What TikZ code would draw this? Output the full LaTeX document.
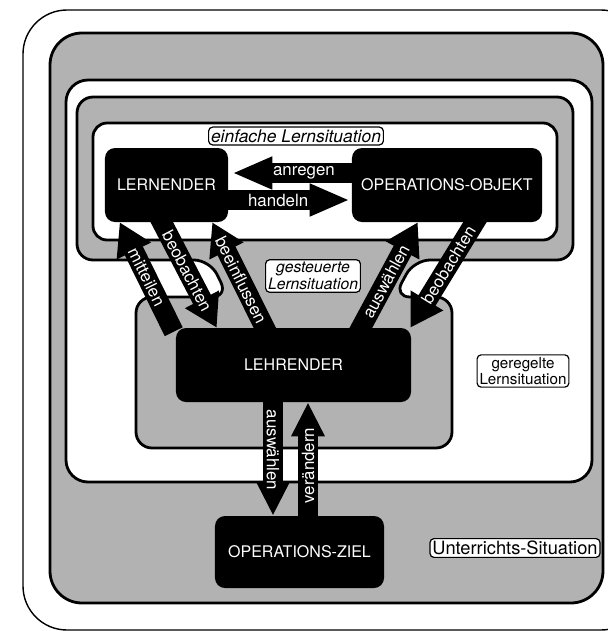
\documentclass[tikz,border=0pt]{standalone}
\usepackage{fontspec}
\setmainfont{TeX Gyre Heros}
\usetikzlibrary{calc}
\usetikzlibrary{arrows.meta}
\colorlet{dotgrey}{black!30}
\tikzset{
    % Heavy outline shared by all the nested situations
    situation/.style={draw, line width=0.7mm},
%
    % Black boxes for the participants, width given as argument
    actor box/.style={
        fill=black, text=white, rounded corners=2.5mm, inner sep=0pt,
        minimum width=#1, minimum height=18.5mm,
        font=\fontsize{11.4}{13}\selectfont},
%
    % Small framed captions naming each situation
    caption box/.style={
        draw, fill=white, line width=0.3mm, rounded corners=1mm,
        inner sep=0.6mm, align=center},
%
    % Fat black arrows between the participants
    fat arrow/.style={line width=5mm, -{Triangle[length=8mm, width=9mm]}},
    flat arrow/.style={line width=5mm, -{Triangle[length=10mm, width=7.5mm]}},
    down arrow/.style={line width=5mm, -{Triangle[length=8.5mm, width=7.8mm]}},
%
    % White lettering written into an arrow
    arrow text/.style={text=white, inner sep=0pt,
        font=\fontsize{12}{13}\selectfont}}

\begin{document}
\begin{tikzpicture}[x=0.25mm, y=-0.25mm]

\clip (0,0) rectangle (608,631);

% Nested situations, outermost first
\draw [line width=0.35mm, rounded corners=11mm] (23,10) rectangle (645,630);
\draw [situation, fill=dotgrey, rounded corners=8mm] (50,33) rectangle (603,603);
\draw [situation, fill=white, rounded corners=5.5mm] (66,80) rectangle (592,482);
\draw [situation, fill=dotgrey, rounded corners=4mm]
    (77,97) -- (573,97) -- (573,260) -- (414,260) -- (394,297)
    -- (452,297) -- (452,448) -- (136,448) -- (136,297) -- (228,297)
    -- (210,260) -- (77,260) -- cycle;
\draw [situation, fill=white, rounded corners=3.5mm] (93,123) rectangle (557,240);

\node [caption box, font={\itshape\fontsize{12.4}{13}\selectfont}]
    (einfache) at (296,136) {einfache Lernsituation};
\node [caption box, font={\itshape\fontsize{11.2}{12}\selectfont}]
    (gesteuert) at (313,276) {gesteuerte\\Lernsituation};
\node [caption box, font=\fontsize{10.8}{11.5}\selectfont]
    (geregelt) at (523,371) {geregelte\\Lernsituation};
\node [caption box, font=\fontsize{13}{14}\selectfont]
    (unterricht) at (515,548) {Unterrichts-Situation};

% Participants
\node [actor box=30.75mm] (lernender) at (166.5,185) {LERNENDER};
\node [actor box=47.5mm] (objekt) at (447,185) {OPERATIONS-OBJEKT};
\node [actor box=58.75mm] (lehrender) at (293.5,365) {LEHRENDER};
\node [actor box=42.25mm, minimum height=18mm] (ziel) at (299.5,552) {OPERATIONS-ZIEL};

% Simple learning situation
\draw [flat arrow] ($(objekt.west)+(2,-12)$) coordinate (anr)
    -- node [arrow text, pos=0.41] {anregen} ($(anr -| lernender.east)+(4,0)$);
\draw [flat arrow] ($(lernender.east)+(-2,15)$) coordinate (hdl)
    -- node [arrow text, pos=0.42] {handeln} ($(hdl -| objekt.west)+(-2,0)$);

% Teacher steering the learner and the object
\draw [fat arrow] ($(lehrender.north west)+(-2,4)$)
    -- node [arrow text, sloped, pos=0.5] {mitteilen} ($(lernender.south west)+(15,0)$);
\draw [fat arrow] ($(lernender.south west)+(53,-8)$)
    -- node [arrow text, sloped, pos=0.5] {beobachten} ($(lehrender.north west)+(41,0)$);
\draw [fat arrow] ($(lehrender.north west)+(92,6)$)
    -- node [arrow text, sloped, pos=0.48] {beeinflussen} ($(lernender.south east)+(-16,0)$);
\draw [fat arrow] ($(lehrender.north west)+(182,6)$)
    -- node [arrow text, sloped, pos=0.47] {auswählen} ($(objekt.south west)+(66,0)$);
\draw [fat arrow] ($(objekt.south west)+(128,-8)$)
    -- node [arrow text, sloped, pos=0.45] {beobachten} ($(lehrender.north east)+(-1,0)$);

% Regulation through the goal
\draw [down arrow] ($(lehrender.south)+(-20.5,-6)$) coordinate (sel)
    -- node [arrow text, rotate=-90, pos=0.45] {auswählen} (sel |- ziel.north);
\draw [down arrow] ($(ziel.north)+(8.5,6)$) coordinate (chg)
    -- node [arrow text, rotate=90, pos=0.47] {verändern} (chg |- lehrender.south);

\end{tikzpicture}
\end{document}
